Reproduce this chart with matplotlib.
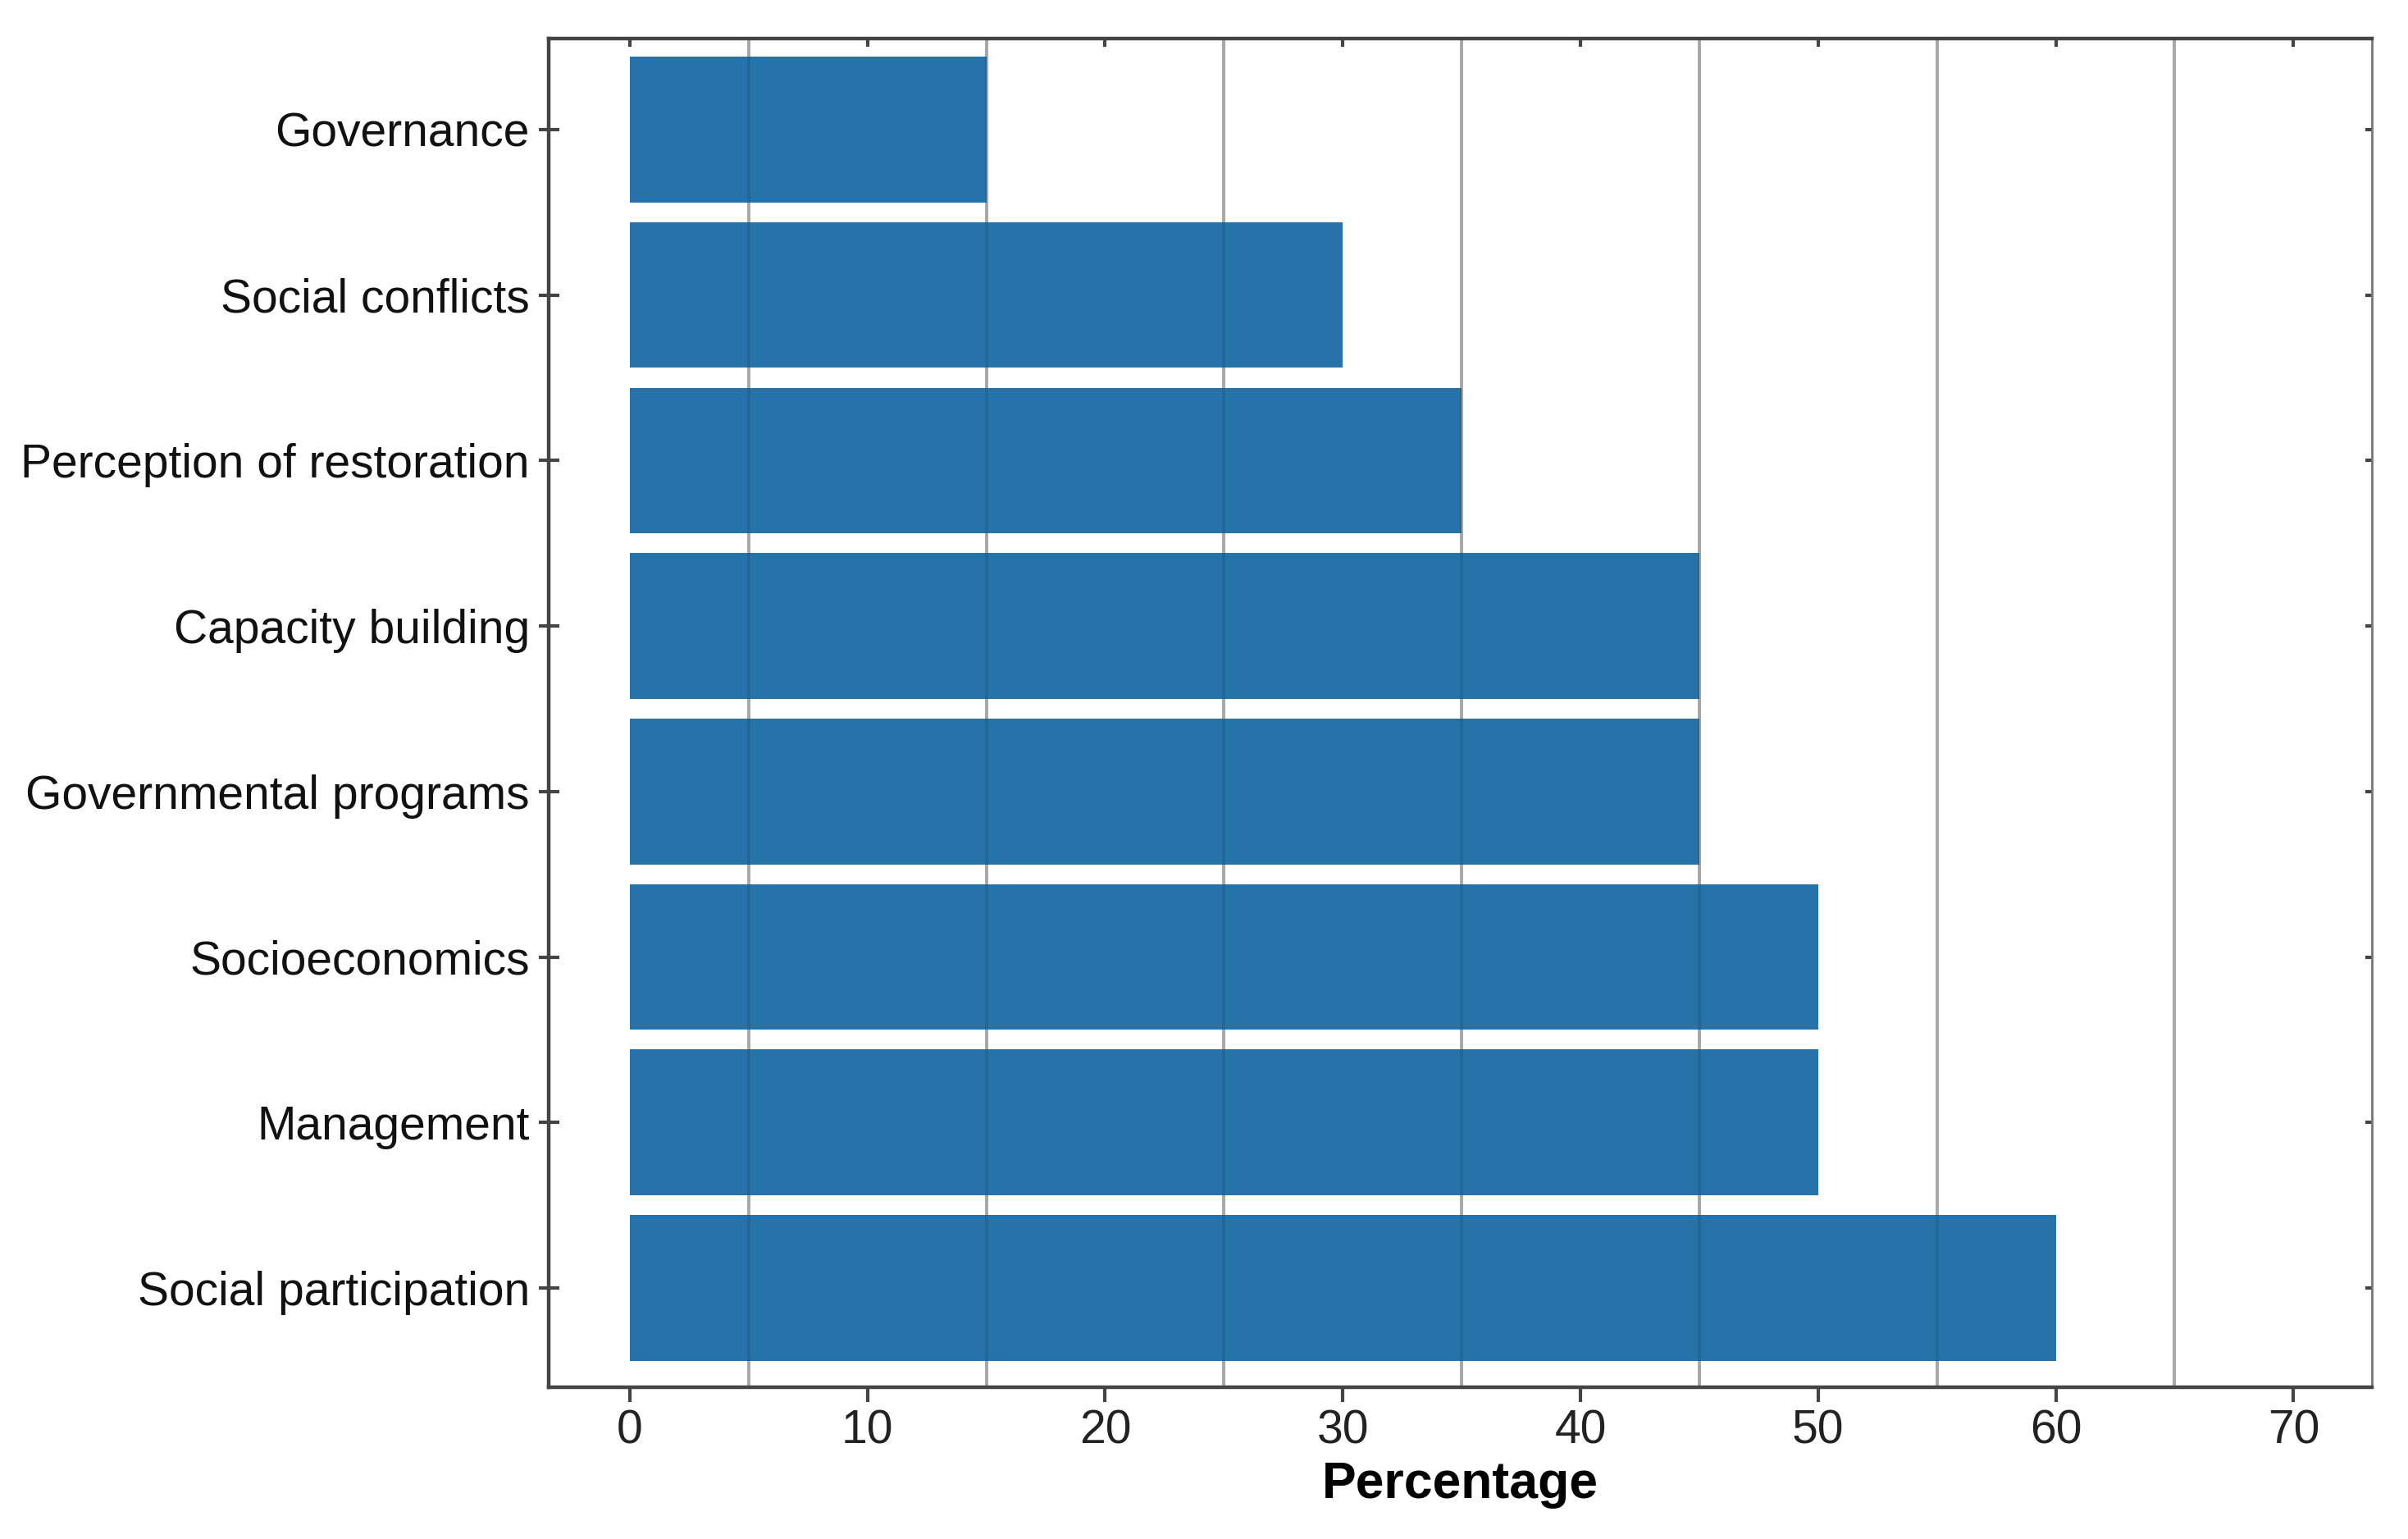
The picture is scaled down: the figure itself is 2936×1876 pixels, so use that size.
import numpy as np
import matplotlib
matplotlib.use("Agg")
import matplotlib.pyplot as plt

# bottom to top
categories = ["Social participation", "Management", "Socioeconomics",
              "Governmental programs", "Capacity building",
              "Perception of restoration", "Social conflicts", "Governance"]
values = [60, 50, 50, 45, 45, 35, 30, 15]
xticks = [0, 10, 20, 30, 40, 50, 60, 70]
grid_x = [5, 15, 25, 35, 45, 55, 65]

plt.rcParams["font.family"] = ["Liberation Sans", "DejaVu Sans"]

fig = plt.figure(figsize=(14.68, 9.38), dpi=200)
ax = fig.add_axes([0.228, 0.0986, 0.757, 0.8764])

y = np.arange(len(categories))
ax.barh(y, values, height=0.88, color="#2673aa", zorder=1)

# light grid behind the bars, faint dark trace of it on top of them
ax.set_xticks(grid_x, minor=True)
ax.grid(True, axis="x", which="minor", color="#bababa", lw=1.4, zorder=0.5)
ax.tick_params(axis="x", which="minor", length=0)
ax.set_axisbelow(True)
ax.vlines(grid_x, -0.6, 7.55, colors="black", alpha=0.1, lw=1.4, zorder=2)

ax.set_xlim(-3.4, 73.3)
ax.set_ylim(-0.6, 7.55)
ax.set_xticks(xticks)
ax.set_yticks(y)
ax.set_yticklabels(categories)

dark = "#444444"
for side in ["left", "bottom", "top"]:
    ax.spines[side].set_color(dark)
    ax.spines[side].set_linewidth(1.6)
ax.spines["right"].set_color("#777777")
ax.spines["right"].set_linewidth(1.0)

ax.tick_params(axis="x", which="major", direction="out", length=6.5, width=1.5,
               color=dark, labelsize=20.5, labelcolor="#222222", pad=3)
ax.tick_params(axis="y", which="major", direction="inout", length=9, width=1.5,
               color=dark, labelsize=20.5, labelcolor="#111111", pad=4)

top = ax.secondary_xaxis("top")
top.set_xticks(xticks)
top.tick_params(direction="in", length=3.5, width=1.5, color=dark, labeltop=False)
top.spines["top"].set_visible(False)

right = ax.secondary_yaxis("right")
right.set_yticks(y)
right.tick_params(direction="in", length=3, width=1.5, color=dark, labelright=False)
right.spines["right"].set_visible(False)

ax.set_xlabel("Percentage", fontsize=22.5, fontweight="bold", labelpad=3)

fig.savefig("out.png", dpi=200)
